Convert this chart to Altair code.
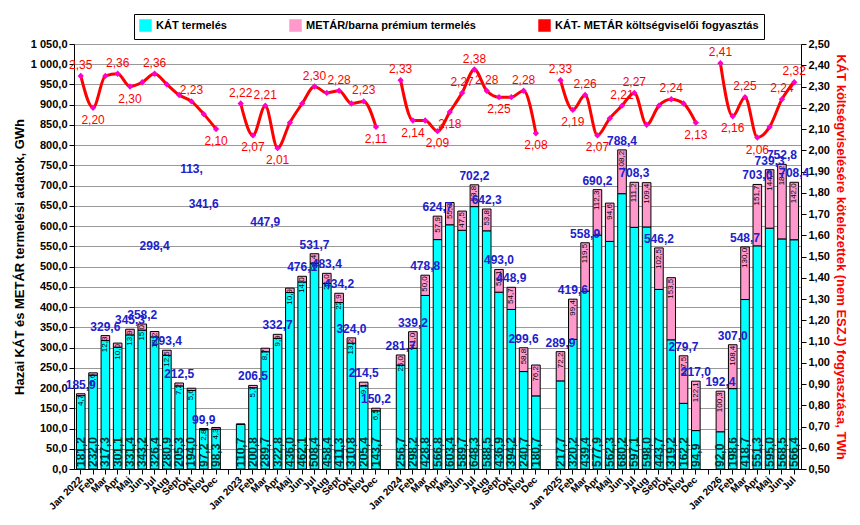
import altair as alt
import pandas as pd

months = ['Jan', 'Feb', 'Mar', 'Apr', 'Maj', 'Jun', 'Jul', 'Aug', 'Sept', 'Okt', 'Nov', 'Dec']
years = [2022, 2023, 2024, 2025, 2026]

kat = [
    181.2, 232.0, 317.3, 301.1, 331.4, 343.2, 326.4, 280.9, 205.3, 194.0, 97.2, 98.3,
    110.7, 200.8, 289.7, 322.8, 436.0, 462.1, 508.4, 458.4, 411.3, 310.8, 205.4, 143.7,
    256.7, 298.2, 428.8, 566.8, 603.4, 589.7, 648.3, 588.5, 436.9, 394.2, 240.7, 180.7,
    217.7, 320.2, 439.4, 577.9, 562.3, 680.2, 597.1, 598.0, 443.7, 319.2, 162.2, 94.9,
    92.0, 198.6, 418.7, 551.3, 595.0, 568.5, 566.4,
]
metar = [
    4.7, 5.6, 12.3, 10.0, 13.9, 15.0, 13.2, 12.5, 7.2, 5.6, 2.8, 4.3,
    0.0, 5.7, 8.7, 9.9, 10.9, 14.0, 23.4, 25.0, 22.9, 13.2, 9.1, 6.5,
    25.0, 41.0, 50.0, 57.9, 55.0, 47.5, 53.8, 53.8, 56.1, 54.7, 58.8, 76.2,
    72.2, 99.4, 119.5, 112.3, 94.6, 108.2, 111.2, 109.4, 102.5, 153.5, 117.5, 122.1,
    100.3, 108.4, 130.0, 151.7, 144.4, 184.2, 142.0,
]
total_lab = [
    '185,9', '', '329,6', '', '345,3', '358,2', '', '293,4', '212,5', '', '99,9', '',
    '', '206,5', '', '332,7', '', '476,1', '531,7', '483,4', '434,2', '324,0', '214,5', '150,2',
    '281,7', '339,2', '478,8', '624,7', '', '', '702,2', '642,3', '493,0', '448,9', '299,6', '',
    '289,9', '419,6', '558,9', '690,2', '', '788,4', '708,3', '', '546,2', '', '279,7', '217,0',
    '192,4', '307,0', '548,7', '703,0', '739,3', '752,8', '708,4',
]
fogy = [
    2.35, 2.20, 2.35, 2.36, 2.30, 2.32, 2.36, 2.31, 2.26, 2.23, 2.17, 2.10,
    2.22, 2.07, 2.21, 2.01, 2.13, 2.22, 2.30, 2.27, 2.28, 2.22, 2.23, 2.11,
    2.33, 2.14, 2.14, 2.09, 2.18, 2.27, 2.38, 2.28, 2.25, 2.25, 2.28, 2.08,
    2.33, 2.19, 2.26, 2.07, 2.15, 2.21, 2.27, 2.12, 2.21, 2.24, 2.22, 2.13,
    2.41, 2.16, 2.25, 2.06, 2.11, 2.24, 2.32,
]
# 1 = label above point, -1 = below, 0 = no label
fogy_lab = [
    1, -1, 0, 1, -1, 0, 1, 0, 0, 1, 0, -1,
    1, -1, 1, -1, 0, 0, 1, 0, 1, 0, 1, -1,
    1, -1, 0, -1, -1, 1, 1, 1, -1, 0, 1, -1,
    1, -1, 1, -1, 0, 1, 1, 0, 0, 1, 0, -1,
    1, -1, 1, -1, 0, 1, 1,
]
stray_pos = [6, 9, 10, 15]
stray_val = [550, 740, 655, 610]
stray_txt = ['298,4', '113,', '341,6', '447,9']

# build slots, with an empty slot between years
rows, labels = [], []
i = 0
for y in years:
    n = 7 if y == 2026 else 12
    for m in range(n):
        pos = len(labels)
        labels.append(f'{months[m]} {y}' if m == 0 else months[m])
        rows.append(dict(pos=pos, year=y, kat=kat[i], metar=metar[i], z=0,
                         total=kat[i] + metar[i], tlab=total_lab[i], fogy=fogy[i],
                         flab=fogy_lab[i],
                         katlab=f'{kat[i]:.1f}'.replace('.', ','),
                         metlab=(f'{metar[i]:.1f}'.replace('.', ',') if metar[i] > 0 else '')))
        i += 1
    if y != 2026:
        labels.append(' ' * (y - 2021))
df = pd.DataFrame(rows)
df['fogytxt'] = df['fogy'].map(lambda v: f'{v:.2f}'.replace('.', ','))
stray = pd.DataFrame({'pos': stray_pos, 'val': stray_val, 'txt': stray_txt})

lab_expr = str(labels) + '[datum.value]'
x = alt.X('pos:O', scale=alt.Scale(domain=list(range(len(labels))), paddingInner=0.3, paddingOuter=0.2),
          axis=alt.Axis(title=None, labelExpr=lab_expr, labelAngle=-45, labelAlign='right',
                        labelBaseline='middle', labelFontSize=10, labelPadding=4,
                        labelFontWeight='bold', labelColor='black', domainColor='black',
                        tickColor='black'))
yl = alt.Scale(domain=[0, 1050])
yaxis = alt.Axis(title='Hazai KÁT és METÁR termelési adatok, GWh', values=list(range(0, 1051, 50)),
                 labelExpr="replace(replace(format(datum.value, ',.1f'), ',', ' '), '.', ',')",
                 titleFontSize=13, labelFontSize=11, labelFontWeight='bold', labelColor='black',
                 gridColor='#999999', domainColor='black', tickColor='black')

color = alt.Color('series:N', scale=alt.Scale(
    domain=['KÁT termelés', 'METÁR/barna prémium termelés', 'KÁT- METÁR költségviselői fogyasztás'],
    range=['#00FFFF', '#FF99CC', '#FF0000']),
    legend=alt.Legend(title=None, orient='none', legendX=60, legendY=-30, direction='horizontal',
                      columnPadding=60, labelFontSize=11, labelFontWeight='bold', symbolType='square',
                      symbolStrokeColor='black', symbolSize=120, strokeColor='black', fillColor='white',
                      padding=5, labelLimit=300))

base = alt.Chart(df)
bars = base.transform_fold(['kat', 'metar'], as_=['key', 'v']).transform_calculate(
    series="datum.key == 'kat' ? 'KÁT termelés' : 'METÁR/barna prémium termelés'",
    o="datum.key == 'kat' ? 0 : 1"
).mark_bar(stroke='black', strokeWidth=1).encode(
    x=x, y=alt.Y('v:Q', stack='zero', scale=yl, axis=yaxis), color=color, order='o:Q')

katlab = base.mark_text(angle=270, align='left', dx=2, fontSize=12, fontWeight='bold', color='#003333').encode(
    x=x, y=alt.Y('z:Q', scale=yl, axis=yaxis), text='katlab:N')
metlab = base.mark_text(angle=270, align='right', dx=-1, fontSize=8, color='black').encode(
    x=x, y=alt.Y('total:Q', scale=yl, axis=yaxis), text='metlab:N')
totlab = base.mark_text(dy=-9, fontSize=12, fontWeight='bold', color='#2020CC').encode(
    x=x, y=alt.Y('total:Q', scale=yl, axis=yaxis), text='tlab:N')
straylab = alt.Chart(stray).mark_text(fontSize=12, fontWeight='bold', color='#2020CC').encode(
    x=x, y=alt.Y('val:Q', scale=yl, axis=yaxis), text='txt:N')

yr = alt.Scale(domain=[0.5, 2.5])
raxis = alt.Axis(title='KÁT költségviselésére kötelezettek (nem ESZJ) fogyasztása, TWh', orient='right',
                 values=[round(0.5 + 0.1 * k, 1) for k in range(21)],
                 labelExpr="replace(format(datum.value, '.2f'), '.', ',')", titleColor='#FF0000',
                 titleFontSize=13, labelFontSize=11, labelFontWeight='bold', labelColor='black',
                 grid=False, domainColor='black', tickColor='black')
line = base.transform_calculate(series="'KÁT- METÁR költségviselői fogyasztás'").mark_line(
    interpolate='monotone', strokeWidth=3).encode(
    x=x, y=alt.Y('fogy:Q', scale=yr, axis=raxis), detail='year:N', color=color)
pts = base.mark_point(shape='diamond', filled=True, size=40, color='#FF00CC', opacity=1).encode(
    x=x, y=alt.Y('fogy:Q', scale=yr, axis=raxis))
up = base.transform_filter('datum.flab == 1').mark_text(dy=-11, fontSize=12, color='#FF0000').encode(
    x=x, y=alt.Y('fogy:Q', scale=yr, axis=raxis), text='fogytxt:N')
dn = base.transform_filter('datum.flab == -1').mark_text(dy=12, fontSize=12, color='#FF0000').encode(
    x=x, y=alt.Y('fogy:Q', scale=yr, axis=raxis), text='fogytxt:N')

left = alt.layer(bars, katlab, metlab, totlab, straylab)
right = alt.layer(line, pts, up, dn)
chart = alt.layer(left, right).resolve_scale(y='independent', color='shared').properties(
    width=844, height=509, background='white', padding={'left': 5, 'top': 30, 'right': 5, 'bottom': 5},
    autosize=alt.AutoSizeParams(type='fit', contains='padding')
).configure_view(fill='#FFFFCC', stroke='black').configure(font='Liberation Sans')

chart.save('out.html', embed_options={'renderer': 'svg', 'actions': False})
